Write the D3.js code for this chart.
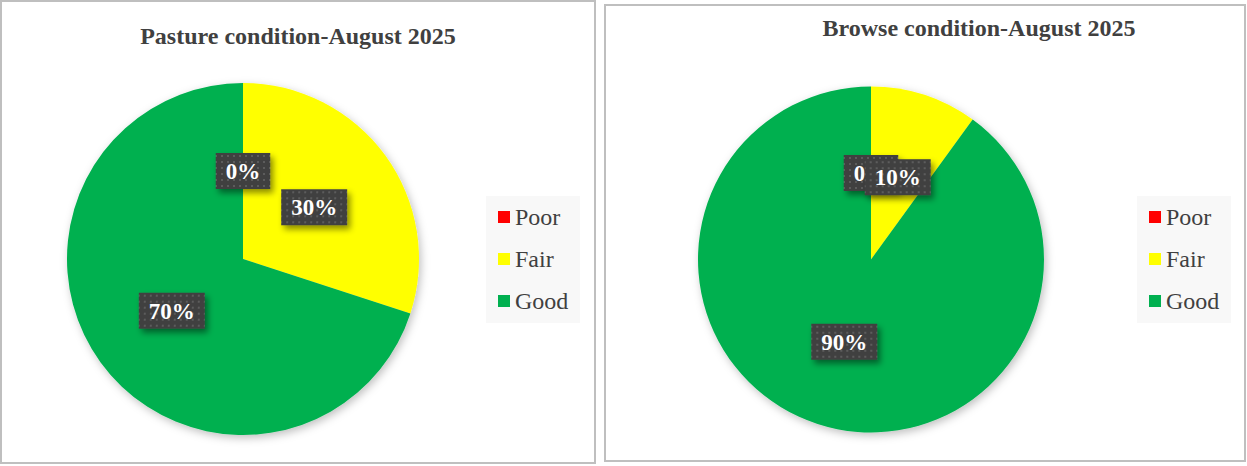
<!DOCTYPE html>
<html>
<head>
<meta charset="utf-8">
<script src="https://cdn.jsdelivr.net/npm/d3@7"></script>
<style>
  body { margin: 0; background: #fff; }
  svg { display: block; }
</style>
</head>
<body>
<div id="chart"></div>
<script>
// data
var categories = ["Poor", "Fair", "Good"];
var colors = ["#ff0000", "#ffff00", "#00b050"];
var pastureValues = [0, 30, 70];
var browseValues = [0, 10, 90];
var pastureTitle = "Pasture condition-August 2025";
var browseTitle = "Browse condition-August 2025";

var W = 1247, H = 466;

var svg = d3.select("#chart")
  .append("svg")
  .attr("width", W)
  .attr("height", H);

var defs = svg.append("defs");

// dotted dark fill used by the data labels
var pat = defs.append("pattern")
  .attr("id", "dots")
  .attr("width", 6)
  .attr("height", 6)
  .attr("patternUnits", "userSpaceOnUse");
pat.append("rect").attr("width", 6).attr("height", 6).attr("fill", "#404040");
pat.append("rect").attr("x", 2).attr("y", 2).attr("width", 2).attr("height", 2).attr("fill", "#5c5c5c");

var lblShadow = defs.append("filter").attr("id", "lblShadow")
  .attr("x", "-30%").attr("y", "-30%").attr("width", "160%").attr("height", "180%");
lblShadow.append("feDropShadow")
  .attr("dx", 3).attr("dy", 4).attr("stdDeviation", 3)
  .attr("flood-color", "#000").attr("flood-opacity", 0.45);

var pieShadow = defs.append("filter").attr("id", "pieShadow")
  .attr("x", "-20%").attr("y", "-20%").attr("width", "140%").attr("height", "140%");
pieShadow.append("feDropShadow")
  .attr("dx", 2).attr("dy", 3).attr("stdDeviation", 4)
  .attr("flood-color", "#000").attr("flood-opacity", 0.25);

var color = d3.scaleOrdinal().domain(categories).range(colors);
var fmt = d3.format(".0%");

function drawPie(cfg) {
  var g = svg.append("g");

  // frame
  g.append("rect")
    .attr("x", cfg.box[0]).attr("y", cfg.box[1])
    .attr("width", cfg.box[2]).attr("height", cfg.box[3])
    .attr("fill", "#fff")
    .attr("stroke", "#bfbfbf")
    .attr("stroke-width", 2);

  // title
  g.append("text")
    .attr("x", cfg.titleX).attr("y", cfg.titleY)
    .attr("text-anchor", "middle")
    .style("font-family", "'Liberation Serif', 'Times New Roman', serif")
    .style("font-weight", "bold")
    .style("font-size", "24px")
    .style("fill", "#404040")
    .text(cfg.title);

  var rows = categories.map(function (c, i) { return { cat: c, value: cfg.values[i] }; });

  var pie = d3.pie().sort(null).value(function (d) { return d.value; });
  var arcs = pie(rows);
  var arc = d3.arc().innerRadius(0).outerRadius(cfg.r);

  var pg = g.append("g")
    .attr("transform", "translate(" + cfg.cx + "," + cfg.cy + ")");

  pg.append("g")
    .attr("filter", "url(#pieShadow)")
    .selectAll("path")
    .data(arcs)
    .enter()
    .append("path")
    .attr("d", arc)
    .attr("fill", function (d) { return color(d.data.cat); });

  // data labels, centroid sits at half the radius
  var lab = pg.selectAll(".lbl")
    .data(arcs)
    .enter()
    .append("g")
    .attr("class", "lbl")
    .attr("transform", function (d) { return "translate(" + arc.centroid(d) + ")"; });

  var bg = lab.append("rect").attr("fill", "url(#dots)").attr("filter", "url(#lblShadow)");
  var tx = lab.append("text")
    .attr("text-anchor", "middle")
    .attr("dy", "0.35em")
    .style("font-family", "'Liberation Serif', 'Times New Roman', serif")
    .style("font-weight", "bold")
    .style("font-size", "23px")
    .style("fill", "#fff")
    .text(function (d) { return fmt(d.data.value / 100); });

  tx.each(function () {
    var w = this.getComputedTextLength() + 20;
    d3.select(this.previousSibling)
      .attr("x", -w / 2).attr("y", -18)
      .attr("width", w).attr("height", 36);
  });

  // legend
  var lg = g.append("g");
  lg.append("rect")
    .attr("x", cfg.legend[0]).attr("y", cfg.legend[1])
    .attr("width", 94).attr("height", 127)
    .attr("fill", "#f8f8f8");

  var item = lg.selectAll(".item")
    .data(categories)
    .enter()
    .append("g")
    .attr("transform", function (d, i) {
      return "translate(" + (cfg.legend[0] + 12) + "," + (cfg.legend[1] + 21 + i * 42) + ")";
    });
  item.append("rect")
    .attr("x", 0).attr("y", -6)
    .attr("width", 12).attr("height", 12)
    .attr("fill", function (d) { return color(d); });
  item.append("text")
    .attr("x", 17).attr("y", 8)
    .style("font-family", "'Liberation Serif', 'Times New Roman', serif")
    .style("font-size", "24px")
    .style("fill", "#404040")
    .text(function (d) { return d; });
}

drawPie({
  box: [1, 1, 594, 462],
  title: pastureTitle, titleX: 298, titleY: 44,
  values: pastureValues,
  cx: 243, cy: 259, r: 176,
  legend: [486, 196]
});

drawPie({
  box: [605, 5, 640, 456],
  title: browseTitle, titleX: 979, titleY: 36,
  values: browseValues,
  cx: 871, cy: 259.5, r: 173,
  legend: [1137, 196]
});
</script>
</body>
</html>
